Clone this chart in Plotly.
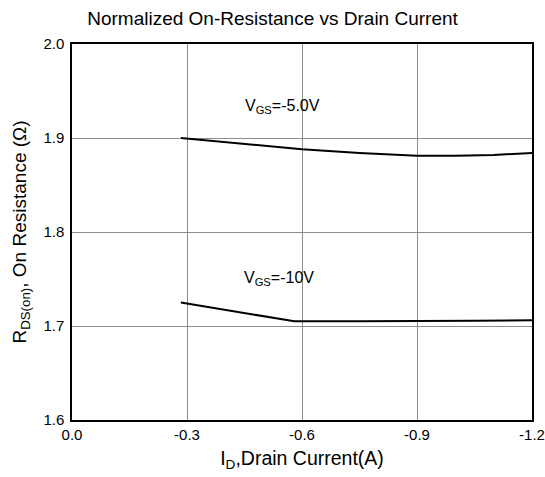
import plotly.graph_objects as go

# I_D (A) and normalized R_DS(on)
id_vgs5 = [-0.284, -0.45, -0.6, -0.75, -0.9, -1.0, -1.1, -1.2]
r_vgs5 = [1.900, 1.894, 1.888, 1.884, 1.881, 1.881, 1.882, 1.884]

id_vgs10 = [-0.284, -0.45, -0.58, -0.75, -0.9, -1.05, -1.2]
r_vgs10 = [1.725, 1.714, 1.705, 1.705, 1.705, 1.7055, 1.706]

x_ticks = [0.0, -0.3, -0.6, -0.9, -1.2]
x_tick_labels = ['0.0', '-0.3', '-0.6', '-0.9', '-1.2']
y_ticks = [1.6, 1.7, 1.8, 1.9, 2.0]
y_tick_labels = ['1.6', '1.7', '1.8', '1.9', '2.0']

font = 'Liberation Sans, Arial, sans-serif'

fig = go.Figure()
fig.add_trace(go.Scatter(x=id_vgs5, y=r_vgs5, mode='lines', line=dict(color='black', width=2),
                         showlegend=False))
fig.add_trace(go.Scatter(x=id_vgs10, y=r_vgs10, mode='lines', line=dict(color='black', width=2),
                         showlegend=False))

fig.add_annotation(x=-0.446, y=1.933, text='V<sub>GS</sub>=-5.0V', showarrow=False,
                   xanchor='left', font=dict(size=16, color='black', family=font))
fig.add_annotation(x=-0.443, y=1.751, text='V<sub>GS</sub>=-10V', showarrow=False,
                   xanchor='left', font=dict(size=16, color='black', family=font))

fig.update_xaxes(range=[0, -1.2], tickvals=x_ticks, ticktext=x_tick_labels,
                 showgrid=True, gridcolor='#8c8c8c', gridwidth=1,
                 showline=True, linecolor='black', linewidth=1.5, mirror=True,
                 zeroline=False, ticks='', ticklen=0, automargin=False,
                 tickfont=dict(size=15, color='black', family=font),
                 title=dict(text='I<sub>D</sub>,Drain Current(A)', standoff=10,
                            font=dict(size=19.5, color='black', family=font)))
fig.update_yaxes(range=[1.6, 2.0], tickvals=y_ticks, ticktext=y_tick_labels,
                 showgrid=True, gridcolor='#8c8c8c', gridwidth=1,
                 showline=True, linecolor='black', linewidth=1.5, mirror=True,
                 zeroline=False, ticks='', ticklen=0, automargin=False,
                 ticklabelstandoff=3,
                 tickfont=dict(size=15, color='black', family=font),
                 title=dict(text='R<sub>DS(on)</sub>, On Resistance (Ω)', standoff=12,
                            font=dict(size=19, color='black', family=font)))

fig.update_layout(
    width=545, height=477,
    margin=dict(l=72, r=13, t=44, b=57),
    paper_bgcolor='white', plot_bgcolor='white',
    title=dict(text='Normalized On-Resistance vs Drain Current', x=0.5, xanchor='center',
               y=0.962, yanchor='middle', font=dict(size=19, color='black', family=font)),
)

# drop the default page margin so the figure sits at the window's corner
fig.write_html('out.html', config={'displayModeBar': False},
               post_script="document.body.style.margin='0';document.body.style.overflow='hidden';")
